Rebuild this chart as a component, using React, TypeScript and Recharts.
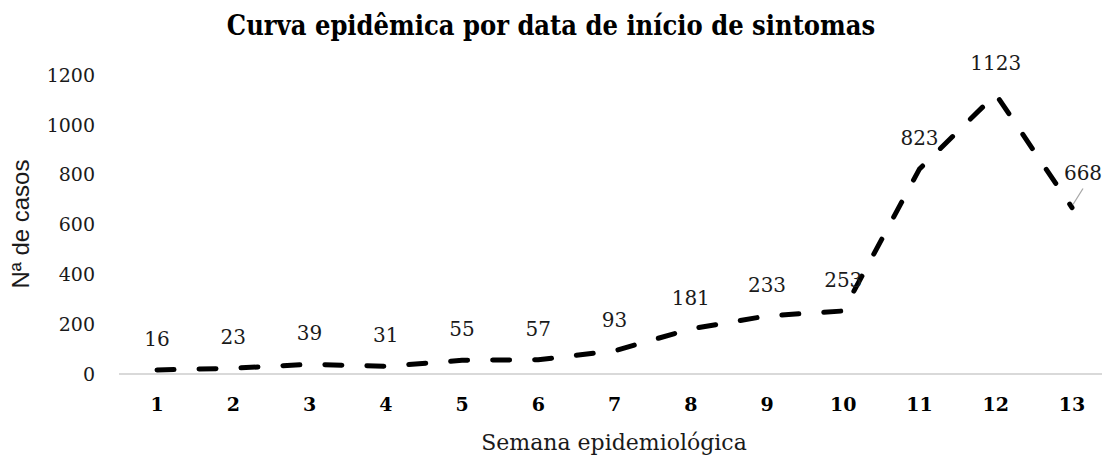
import { LineChart, Line, XAxis, YAxis, LabelList, Label } from "recharts";

const weeks = ["1", "2", "3", "4", "5", "6", "7", "8", "9", "10", "11", "12", "13"];
const cases = [16, 23, 39, 31, 55, 57, 93, 181, 233, 253, 823, 1123, 668];
const yTicks = [0, 200, 400, 600, 800, 1000, 1200];

const data = weeks.map((week, i) => ({ week, cases: cases[i] }));

const serif = "'DejaVu Serif', serif";
const textColor = "#1a1a1a";

function CaseLabel(props: any) {
  const { x, y, value, index } = props;
  if (index === cases.length - 1) {
    // last point: label pushed right with a small leader line
    return (
      <g>
        <line x1={x + 11} y1={y - 19} x2={x + 1} y2={y - 3} stroke="#a6a6a6" strokeWidth={1.2} />
        <text x={x + 11} y={y - 28} textAnchor="middle" fontFamily={serif} fontSize={20} fill={textColor}>
          {value}
        </text>
      </g>
    );
  }
  return (
    <text x={x} y={y - 24} textAnchor="middle" fontFamily={serif} fontSize={20} fill={textColor}>
      {value}
    </text>
  );
}

export default function App() {
  return (
    <div style={{ position: "absolute", left: 0, top: 0, width: 1102, height: 455, overflow: "hidden", background: "#fff" }}>
      <div
        style={{
          position: "absolute",
          left: 0,
          top: 10,
          width: 1102,
          textAlign: "center",
          fontFamily: "'DejaVu Serif Condensed', 'DejaVu Serif', serif",
          fontWeight: "bold",
          fontSize: 27,
          color: "#000",
        }}
      >
        Curva epidêmica por data de início de sintomas
      </div>
      <LineChart width={1110} height={455} data={data} margin={{ top: 75, right: 0, bottom: 0, left: 0 }}>
        <XAxis
          dataKey="week"
          height={81}
          padding={{ left: 38, right: 38 }}
          axisLine={{ stroke: "#d9d9d9", strokeWidth: 2 }}
          tickLine={false}
          tickSize={0}
          tickMargin={24}
          tick={{ fontFamily: serif, fontSize: 19, fontWeight: "bold", fill: "#000" }}
        >
          <Label
            content={() => (
              <text x={614} y={450} textAnchor="middle" fontFamily={serif} fontSize={22} fill={textColor}>
                Semana epidemiológica
              </text>
            )}
          />
        </XAxis>
        <YAxis
          width={119}
          domain={[0, 1200]}
          ticks={yTicks}
          axisLine={false}
          tickLine={false}
          tickSize={0}
          tickMargin={24}
          tick={{ fontFamily: serif, fontSize: 19, fill: textColor }}
        >
          <Label
            content={() => (
              <text
                x={20}
                y={224}
                transform="rotate(-90, 20, 224)"
                textAnchor="middle"
                dominantBaseline="central"
                fontFamily="'Liberation Sans', sans-serif"
                fontSize={24}
                fill={textColor}
              >
                Nª de casos
              </text>
            )}
          />
        </YAxis>
        <Line
          type="linear"
          dataKey="cases"
          stroke="#000"
          strokeWidth={5}
          strokeDasharray="17 25"
          strokeLinecap="round"
          dot={false}
          activeDot={false}
          isAnimationActive={false}
        >
          <LabelList dataKey="cases" content={CaseLabel} />
        </Line>
      </LineChart>
    </div>
  );
}
